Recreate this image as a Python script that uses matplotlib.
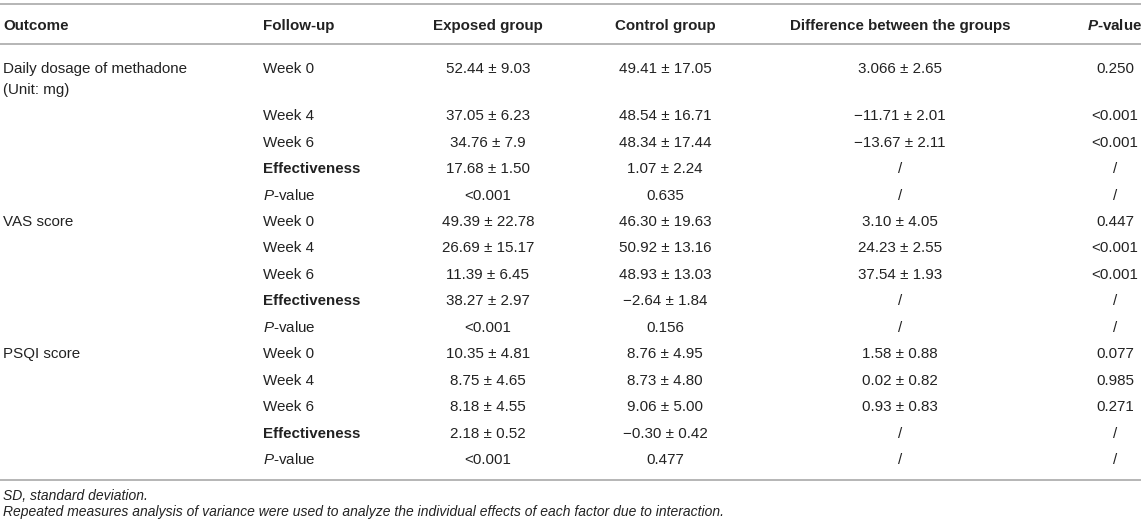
import matplotlib.pyplot as plt

plt.rcParams['font.family'] = ['Liberation Sans', 'DejaVu Sans']
plt.rcParams['mathtext.fontset'] = 'custom'
plt.rcParams['mathtext.rm'] = 'Liberation Sans'
plt.rcParams['mathtext.it'] = 'Liberation Sans:italic'
plt.rcParams['mathtext.bf'] = 'Liberation Sans:bold'
plt.rcParams['mathtext.bfit'] = 'Liberation Sans:italic:bold'

# table content
headers = ["Outcome", "Follow-up", "Exposed group", "Control group",
           "Difference between the groups", r"$\mathbfit{P}$-value"]
outcomes = ["Daily dosage of methadone\n(Unit: mg)", "VAS score", "PSQI score"]
follow_up = ["Week 0", "Week 4", "Week 6", "Effectiveness", r"$\mathit{P}$-value"]

exposed = ["52.44 ± 9.03", "37.05 ± 6.23", "34.76 ± 7.9", "17.68 ± 1.50", "<0.001",
           "49.39 ± 22.78", "26.69 ± 15.17", "11.39 ± 6.45", "38.27 ± 2.97", "<0.001",
           "10.35 ± 4.81", "8.75 ± 4.65", "8.18 ± 4.55", "2.18 ± 0.52", "<0.001"]
control = ["49.41 ± 17.05", "48.54 ± 16.71", "48.34 ± 17.44", "1.07 ± 2.24", "0.635",
           "46.30 ± 19.63", "50.92 ± 13.16", "48.93 ± 13.03", "−2.64 ± 1.84", "0.156",
           "8.76 ± 4.95", "8.73 ± 4.80", "9.06 ± 5.00", "−0.30 ± 0.42", "0.477"]
difference = ["3.066 ± 2.65", "−11.71 ± 2.01", "−13.67 ± 2.11", "/", "/",
              "3.10 ± 4.05", "24.23 ± 2.55", "37.54 ± 1.93", "/", "/",
              "1.58 ± 0.88", "0.02 ± 0.82", "0.93 ± 0.83", "/", "/"]
p_values = ["0.250", "<0.001", "<0.001", "/", "/",
            "0.447", "<0.001", "<0.001", "/", "/",
            "0.077", "0.985", "0.271", "/", "/"]

notes = ["SD, standard deviation.",
         "Repeated measures analysis of variance were used to analyze the individual "
         "effects of each factor due to interaction."]

W, H = 1145, 529
fig = plt.figure(figsize=(W / 100, H / 100), dpi=100)
ax = fig.add_axes([0, 0, 1, 1])
ax.set_xlim(0, W)
ax.set_ylim(H, 0)
ax.axis('off')

txt = '#222222'
line_c = '#b0b0b0'
fs = 10.9
fs_note = 10.0
off = 5.2  # baseline offset from visual centre

col_x = [3, 263, 488, 665, 900, 1115]
col_ha = ['left', 'left', 'center', 'center', 'center', 'center']

# horizontal rules
for y in (4, 44, 480):
    ax.plot([0, 1141], [y, y], color=line_c, lw=1.3, solid_capstyle='butt')

for x, ha, h in zip(col_x, col_ha, headers):
    ax.text(x, 25 + off, h, ha=ha, va='baseline', fontsize=fs,
            fontweight='bold', color=txt)

# row positions
step = 26.46
row_y = [68] + [115 + i * step for i in range(len(exposed) - 1)]

for k, name in enumerate(outcomes):
    lines = name.split('\n')
    for j, ln in enumerate(lines):
        ax.text(col_x[0], row_y[k * 5] + off + j * 21, ln, ha='left',
                va='baseline', fontsize=fs, color=txt)

for i, y in enumerate(row_y):
    fu = follow_up[i % 5]
    ax.text(col_x[1], y + off, fu, ha='left', va='baseline', fontsize=fs,
            color=txt, fontweight='bold' if fu == 'Effectiveness' else 'normal')
    for c, vals in zip(range(2, 6), (exposed, control, difference, p_values)):
        ax.text(col_x[c], y + off, vals[i], ha='center', va='baseline',
                fontsize=fs, color=txt)

ax.text(col_x[0], 495 + off, notes[0], ha='left', va='baseline',
        fontsize=fs_note, style='italic', color=txt)
ax.text(col_x[0], 511 + off, notes[1], ha='left', va='baseline',
        fontsize=fs_note, style='italic', color=txt)

fig.savefig('out.png', dpi=100)
